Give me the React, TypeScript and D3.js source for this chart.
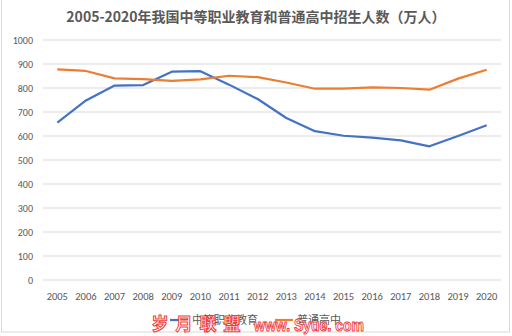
import React from "react";
import * as d3 from "d3";

const years = ["2005","2006","2007","2008","2009","2010","2011","2012","2013","2014","2015","2016","2017","2018","2019","2020"];
const vocational = [656, 748, 810, 812, 868, 870, 814, 754, 675, 620, 601, 593, 582, 557, 600, 645];
const highSchool = [878, 871, 840, 837, 830, 836, 851, 845, 823, 797, 797, 803, 800, 793, 839, 876];
const yTicks = [0, 100, 200, 300, 400, 500, 600, 700, 800, 900, 1000];
const seriesNames = ["中等职业教育", "普通高中"];
const colors = ["#4472C4", "#ED7D31"];
const watermarkChars = ["岁", "月", "联", "盟"];
const watermarkUrl = "www. Syue. com";

export default function App() {
  const W = 512, H = 336;
  const x = d3.scaleBand<string>().domain(years).range([43, 501]);
  const y = d3.scaleLinear().domain([0, 1000]).range([280, 40]);
  const line = d3.line<number>()
    .x((_, i) => (x(years[i]) as number) + x.bandwidth() / 2)
    .y((d) => y(d));
  const font = "Calibri, 'Liberation Sans', 'Noto Sans CJK SC', sans-serif";
  const wmX = d3.scalePoint<string>().domain(watermarkChars).range([160, 232]);
  return (
    <svg width={W} height={H} style={{ position: "absolute", left: 0, top: 0 }} fontFamily={font}>
      <rect x={0} y={0} width={W} height={H} fill="#fff" />
      <rect x={1.5} y={-2} width={508} height={334} fill="none" stroke="#d9d9d9" />
      <text x={256} y={22} textAnchor="middle" fontSize={14} fontWeight="bold" fill="#595959"
        fontFamily="'Noto Sans CJK SC', sans-serif">2005-2020年我国中等职业教育和普通高中招生人数（万人）</text>
      {yTicks.map((t) => (
        <g key={t}>
          <line x1={43} x2={501} y1={y(t)} y2={y(t)} stroke="#d9d9d9" strokeWidth={1} />
          <text x={33} y={y(t) + 3.5} textAnchor="end" fontSize={10} fill="#595959">{t}</text>
        </g>
      ))}
      {years.map((yr) => (
        <text key={yr} x={(x(yr) as number) + x.bandwidth() / 2} y={300} textAnchor="middle" fontSize={10.5} fill="#595959">{yr}</text>
      ))}
      {[vocational, highSchool].map((s, i) => (
        <path key={i} d={line(s) || ""} fill="none" stroke={colors[i]} strokeWidth={2.2} strokeLinejoin="round" />
      ))}
      <g fontSize={11} fill="#595959" fontFamily="'Noto Sans CJK SC', sans-serif">
        <line x1={170} x2={188} y1={320} y2={320} stroke={colors[0]} strokeWidth={2.2} />
        <text x={192} y={324}>{seriesNames[0]}</text>
        <line x1={275} x2={293} y1={320} y2={320} stroke={colors[1]} strokeWidth={2.2} />
        <text x={297} y={324}>{seriesNames[1]}</text>
      </g>
      <g fill="#fff" stroke="#f03c3c" strokeWidth={1} fontWeight="bold">
        {watermarkChars.map((c) => (
          <text key={c} x={wmX(c)} y={330} textAnchor="middle" fontSize={17}
            fontFamily="'Noto Sans CJK SC', sans-serif">{c}</text>
        ))}
        <text x={254} y={331} fontSize={17} textLength={110} lengthAdjust="spacingAndGlyphs"
          fontFamily="'Liberation Sans', sans-serif">{watermarkUrl}</text>
      </g>
    </svg>
  );
}
